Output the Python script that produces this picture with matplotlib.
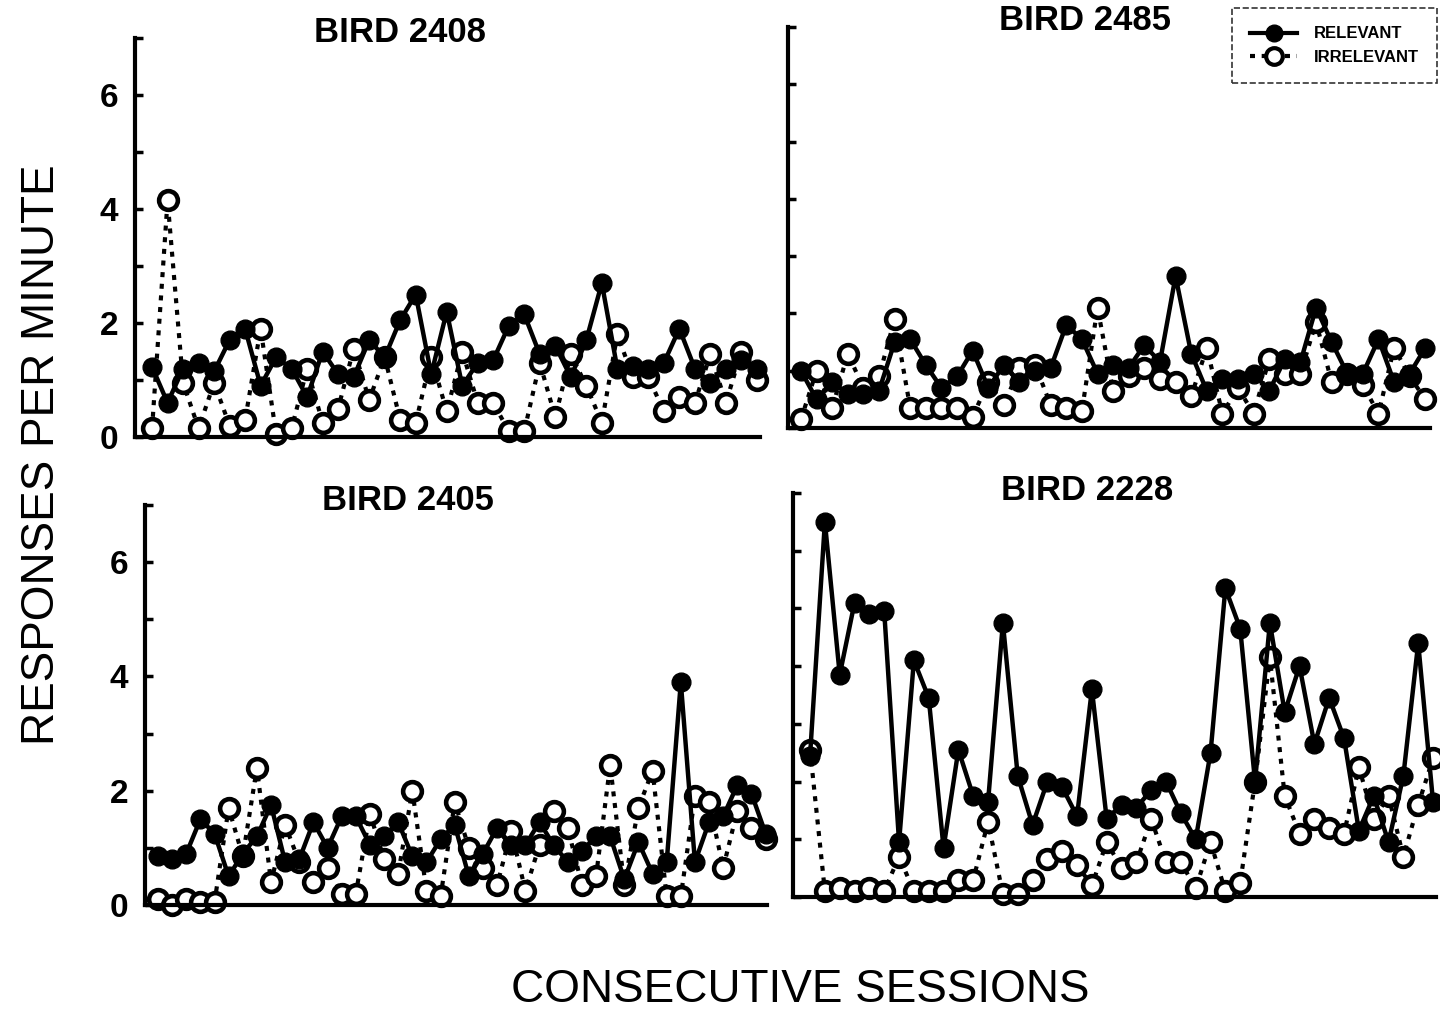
import matplotlib
matplotlib.use("Agg")
import matplotlib.pyplot as plt
from matplotlib.lines import Line2D

plt.rcParams['font.family'] = ['Liberation Sans', 'DejaVu Sans']

# ---- data (responses per minute, one value per session) ----
titles = ["BIRD 2408", "BIRD 2485", "BIRD 2405", "BIRD 2228"]

rel_2408 = [1.23, 0.6, 1.2, 1.3, 1.15, 1.7, 1.9, 0.9, 1.4, 1.2, 0.7, 1.5, 1.1, 1.05,
            1.7, 1.4, 2.05, 2.5, 1.1, 2.2, 0.9, 1.3, 1.35, 1.95, 2.15, 1.45, 1.6, 1.05,
            1.7, 2.7, 1.2, 1.25, 1.2, 1.3, 1.9, 1.2, 0.95, 1.2, 1.35, 1.2]
irr_2408 = [0.15, 4.15, 0.95, 0.15, 0.95, 0.2, 0.3, 1.9, 0.05, 0.15, 1.2, 0.25, 0.5, 1.55,
            0.65, 1.4, 0.3, 0.25, 1.4, 0.45, 1.5, 0.6, 0.6, 0.1, 0.1, 1.3, 0.35, 1.45,
            0.9, 0.25, 1.8, 1.05, 1.05, 0.45, 0.7, 0.6, 1.45, 0.6, 1.5, 1.0]

rel_2485 = [1.0, 0.5, 0.8, 0.6, 0.6, 0.65, 1.5, 1.55, 1.1, 0.7, 0.9, 1.35, 0.7, 1.1,
            0.8, 1.0, 1.05, 1.8, 1.55, 0.95, 1.1, 1.05, 1.45, 1.15, 2.65, 1.3, 0.65, 0.85,
            0.85, 0.95, 0.65, 1.2, 1.15, 2.1, 1.5, 0.95, 0.95, 1.55, 0.8, 0.95, 1.4]
irr_2485 = [0.15, 1.0, 0.35, 1.3, 0.7, 0.9, 1.9, 0.35, 0.35, 0.35, 0.35, 0.2, 0.8, 0.4,
            1.05, 1.1, 0.4, 0.35, 0.3, 2.1, 0.65, 0.9, 1.05, 0.85, 0.8, 0.55, 1.4, 0.25,
            0.7, 0.25, 1.2, 0.95, 0.95, 1.85, 0.8, 0.95, 0.75, 0.25, 1.4, 0.9, 0.5]

rel_2405 = [0.85, 0.8, 0.9, 1.5, 1.25, 0.5, 0.9, 1.2, 1.75, 0.75, 0.8, 1.45, 1.0, 1.55,
            1.55, 1.05, 1.2, 1.45, 0.85, 0.75, 1.15, 1.4, 0.5, 0.9, 1.35, 1.05, 1.05, 1.45,
            1.05, 0.75, 0.95, 1.2, 1.2, 0.45, 1.1, 0.55, 0.75, 3.9, 0.75, 1.45, 1.55, 2.1,
            1.95, 1.25]
irr_2405 = [0.1, 0.0, 0.1, 0.05, 0.05, 1.7, 0.85, 2.4, 0.4, 1.4, 0.75, 0.4, 0.65, 0.2,
            0.2, 1.6, 0.8, 0.55, 2.0, 0.25, 0.15, 1.8, 1.0, 0.65, 0.35, 1.3, 0.25, 1.05,
            1.65, 1.35, 0.35, 0.5, 2.45, 0.35, 1.7, 2.35, 0.15, 0.15, 1.9, 1.8, 0.65, 1.65,
            1.35, 1.15]

rel_2228 = [2.45, 6.5, 3.85, 5.1, 4.9, 4.95, 0.95, 4.1, 3.45, 0.85, 2.55, 1.75, 1.65, 4.75,
            2.1, 1.25, 2.0, 1.9, 1.4, 3.6, 1.35, 1.6, 1.55, 1.85, 2.0, 1.45, 1.0, 2.5,
            5.35, 4.65, 2.0, 4.75, 3.2, 4.0, 2.65, 3.45, 2.75, 1.15, 1.75, 0.95, 2.1, 4.4,
            1.65]
irr_2228 = [2.55, 0.1, 0.15, 0.1, 0.15, 0.1, 0.7, 0.1, 0.1, 0.1, 0.3, 0.3, 1.3, 0.05,
            0.05, 0.3, 0.65, 0.8, 0.55, 0.2, 0.95, 0.5, 0.6, 1.35, 0.6, 0.6, 0.15, 0.95,
            0.1, 0.25, 2.0, 4.15, 1.75, 1.1, 1.35, 1.2, 1.1, 2.25, 1.35, 1.75, 0.7, 1.6,
            2.4]

relevant = [rel_2408, rel_2485, rel_2405, rel_2228]
irrelevant = [irr_2408, irr_2485, irr_2405, irr_2228]

# ---- layout (pixel boxes: left, right, top, bottom) ----
W, H = 1440, 1016
boxes = [(135, 760, 38, 437), (788, 1430, 27, 428),
         (145, 767, 505, 905), (793, 1436, 493, 897)]
xlims = [(-0.1, 40.2), (0.17, 41.3), (0.08, 44.1), (-0.15, 43.2)]
title_pos = [(400, 33), (1085, 20), (408, 500), (1087, 490)]
dash = (0, (1.2, 1.6))

fig = plt.figure(figsize=(W / 100, H / 100), dpi=100)

for i in range(4):
    l, r, t, b = boxes[i]
    ax = fig.add_axes([l / W, 1 - b / H, (r - l) / W, (b - t) / H])
    x = list(range(1, len(relevant[i]) + 1))
    ax.plot(x, irrelevant[i], linestyle=dash, color='black', lw=3,
            marker='o', ms=13.5, mfc='white', mec='black', mew=3.3, clip_on=False)
    ax.plot(x, relevant[i], linestyle='-', color='black', lw=3.2,
            marker='o', ms=13.5, mfc='black', mec='black', clip_on=False)
    ax.set_xlim(*xlims[i])
    ax.set_ylim(0, 7)
    ax.spines['top'].set_visible(False)
    ax.spines['right'].set_visible(False)
    ax.spines['left'].set_linewidth(3)
    ax.spines['bottom'].set_linewidth(3)
    ax.set_xticks([])
    ax.set_yticks(range(0, 8))
    ax.tick_params(axis='y', direction='in', length=6, width=2.5, pad=12)
    if i in (0, 2):
        ax.set_yticklabels(['0', '', '2', '', '4', '', '6', ''],
                           fontsize=24, fontweight='bold')
    else:
        ax.set_yticklabels([])
    tx, ty = title_pos[i]
    fig.text(tx / W, 1 - ty / H, titles[i], ha='center', va='center',
             fontsize=25, fontweight='bold')

fig.text(42 / W, 1 - 455 / H, 'RESPONSES PER MINUTE', rotation=90,
         ha='center', va='center', fontsize=33)
fig.text(800 / W, 1 - 990 / H, 'CONSECUTIVE SESSIONS',
         ha='center', va='center', fontsize=33)

handles = [Line2D([], [], color='black', lw=3, marker='o', ms=12, mfc='black'),
           Line2D([], [], color='black', lw=3, linestyle=dash, marker='o',
                  ms=12, mfc='white', mew=3)]
leg = fig.legend(handles, ['RELEVANT', 'IRRELEVANT'], loc='upper right',
                 bbox_to_anchor=(1437 / W, 1 - 8 / H), fancybox=False,
                 prop={'size': 12, 'weight': 'bold'}, handlelength=2.8,
                 borderpad=1.1, labelspacing=0.5, handletextpad=1.0,
                 borderaxespad=0, edgecolor='black')
leg.get_frame().set_linestyle('--')
leg.get_frame().set_linewidth(1.2)

fig.savefig('out.png', dpi=100)
